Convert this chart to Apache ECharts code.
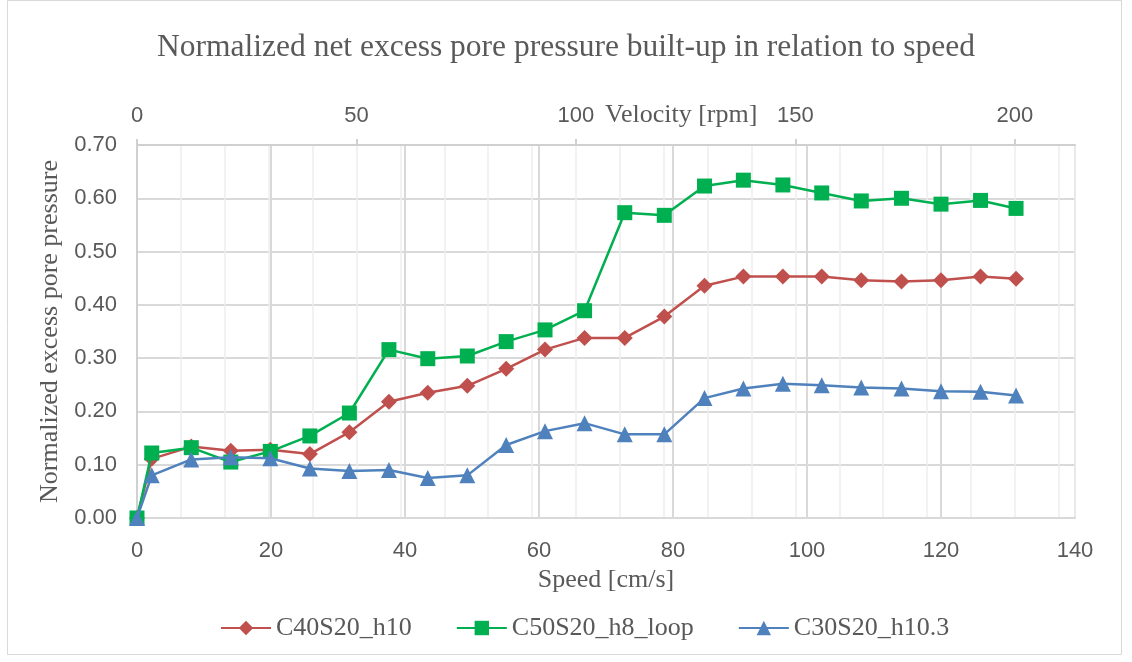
<!DOCTYPE html>
<html>
<head>
<meta charset="utf-8">
<script src="https://cdn.jsdelivr.net/npm/echarts@6/dist/echarts.min.js"></script>
<style>html,body{margin:0;padding:0;background:#fff}#c{width:1132px;height:662px}</style>
</head>
<body>
<div id="c"></div>
<script>
const speed = [0, 2.2, 8.1, 14.0, 19.9, 25.8, 31.7, 37.6, 43.4, 49.3, 55.1, 60.9, 66.8, 72.8, 78.7, 84.7, 90.5, 96.4, 102.2, 108.1, 114.1, 120.0, 125.9, 131.2];
const c40s20_h10 = [0, 0.111, 0.134, 0.126, 0.128, 0.120, 0.161, 0.218, 0.235, 0.248, 0.280, 0.316, 0.338, 0.338, 0.378, 0.436, 0.453, 0.453, 0.453, 0.446, 0.444, 0.446, 0.453, 0.449];
const c50s20_h8_loop = [0, 0.122, 0.132, 0.105, 0.125, 0.154, 0.197, 0.316, 0.299, 0.304, 0.331, 0.353, 0.389, 0.573, 0.568, 0.623, 0.634, 0.625, 0.610, 0.595, 0.600, 0.589, 0.596, 0.581];
const c30s20_h10_3 = [0, 0.080, 0.110, 0.114, 0.112, 0.093, 0.088, 0.090, 0.075, 0.080, 0.137, 0.163, 0.178, 0.157, 0.157, 0.225, 0.243, 0.252, 0.249, 0.245, 0.243, 0.238, 0.237, 0.230];
const seriesNames = ['C40S20_h10', 'C50S20_h8_loop', 'C30S20_h10.3'];
const yTicks = [0, 0.1, 0.2, 0.3, 0.4, 0.5, 0.6, 0.7];
const speedTicks = [0, 20, 40, 60, 80, 100, 120, 140];
const rpmTicks = [0, 50, 100, 150, 200];
const rpmMax = 213.7;

const serif = '"Liberation Serif", "Times New Roman", serif';
const sans = '"Liberation Sans", Arial, sans-serif';
const txt = '#595959';

function pairs(ys) { return speed.map((x, i) => [x, ys[i]]); }

const chart = echarts.init(document.getElementById('c'), null, {renderer: 'canvas'});
chart.setOption({
  animation: false,
  backgroundColor: '#fff',
  title: {
    text: 'Normalized net excess pore pressure built-up in relation to speed',
    left: 'center', top: 27,
    textStyle: {fontFamily: serif, fontSize: 31.5, fontWeight: 'normal', color: txt}
  },
  graphic: [
    {type: 'rect', shape: {x: 7.5, y: 0.5, width: 1114, height: 654}, style: {fill: 'none', stroke: '#d9d9d9', lineWidth: 1}, silent: true, z: -10},
    {type: 'text', left: 605, top: 102, style: {text: 'Velocity [rpm]', font: '26px ' + serif, fill: txt}}
  ],
  legend: {
    bottom: 16, left: 215,
    itemWidth: 50, itemHeight: 18, itemGap: 44,
    textStyle: {fontFamily: serif, fontSize: 26, color: txt},
    data: seriesNames
  },
  grid: {left: 137, right: 57, top: 145, bottom: 144},
  xAxis: [
    {
      type: 'value', position: 'bottom', min: speedTicks[0], max: speedTicks[speedTicks.length - 1], interval: 20,
      name: 'Speed [cm/s]', nameLocation: 'middle', nameGap: 46,
      nameTextStyle: {fontFamily: serif, fontSize: 26, color: txt},
      axisLine: {show: true, lineStyle: {color: '#d9d9d9', width: 2}},
      axisTick: {show: false},
      axisLabel: {fontFamily: sans, fontSize: 22, color: txt, margin: 22},
      splitLine: {show: true, lineStyle: {color: '#d9d9d9', width: 2}}
    },
    {
      type: 'value', position: 'top', min: rpmTicks[0], max: rpmMax, interval: 50,
      axisLine: {show: true, lineStyle: {color: '#d0d0d0', width: 2}},
      axisTick: {show: true, inside: false, length: 6, lineStyle: {color: '#d0d0d0', width: 2}},
      axisLabel: {fontFamily: sans, fontSize: 22, color: txt, margin: 18, showMaxLabel: false},
      splitLine: {show: true, lineStyle: {color: '#eeeeee', width: 1.5}},
      minorTick: {show: false, splitNumber: 5},
      minorSplitLine: {show: true, lineStyle: {color: '#eeeeee', width: 1.5}}
    }
  ],
  yAxis: {
    type: 'value', min: yTicks[0], max: yTicks[yTicks.length - 1], interval: 0.1,
    name: 'Normalized excess pore pressure', nameLocation: 'middle', nameGap: 65,
    nameTextStyle: {fontFamily: serif, fontSize: 26, color: txt},
    axisLine: {show: true, lineStyle: {color: '#d0d0d0', width: 2}},
    axisTick: {show: false},
    axisLabel: {fontFamily: sans, fontSize: 22, color: txt, margin: 20, formatter: v => v.toFixed(2)},
    splitLine: {show: true, lineStyle: {color: '#d9d9d9', width: 2}}
  },
  series: [
    {
      name: seriesNames[0], type: 'line', xAxisIndex: 0, data: pairs(c40s20_h10),
      symbol: 'diamond', symbolSize: 16, showAllSymbol: true,
      lineStyle: {color: '#C0504D', width: 2.5}, itemStyle: {color: '#C0504D'}, z: 3
    },
    {
      name: seriesNames[1], type: 'line', xAxisIndex: 0, data: pairs(c50s20_h8_loop),
      symbol: 'rect', symbolSize: 15, showAllSymbol: true,
      lineStyle: {color: '#00B050', width: 2.5}, itemStyle: {color: '#00B050'}, z: 4
    },
    {
      name: seriesNames[2], type: 'line', xAxisIndex: 0, data: pairs(c30s20_h10_3),
      symbol: 'triangle', symbolSize: 16, showAllSymbol: true,
      lineStyle: {color: '#4F81BD', width: 2.5}, itemStyle: {color: '#4F81BD'}, z: 5
    }
  ]
});
</script>
</body>
</html>
